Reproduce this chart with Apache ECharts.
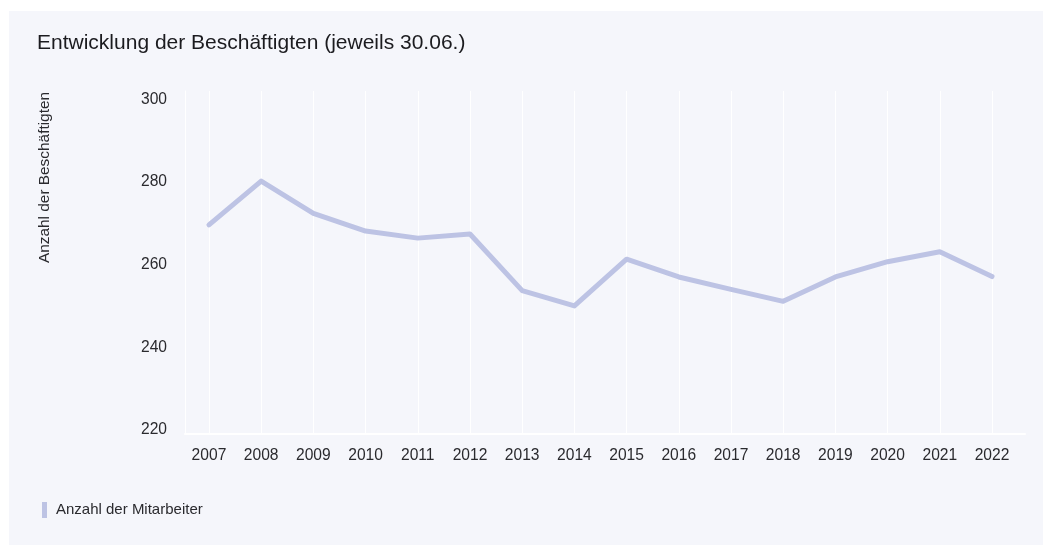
<!DOCTYPE html>
<html>
<head>
<meta charset="utf-8">
<script src="https://cdn.jsdelivr.net/npm/echarts@6/dist/echarts.min.js"></script>
<style>
  html, body { margin: 0; padding: 0; background: #ffffff; }
  #panel { position: absolute; left: 9px; top: 11px; width: 1034px; height: 534px; background: #f5f6fb; }
  #chart { position: absolute; left: 0; top: 0; width: 1043px; height: 545px; }
</style>
</head>
<body>
<div id="panel"></div>
<div id="chart"></div>
<script>
const titleText = 'Entwicklung der Beschäftigten (jeweils 30.06.)';
const yAxisName = 'Anzahl der Beschäftigten';
const seriesName = 'Anzahl der Mitarbeiter';
const years = [2007, 2008, 2009, 2010, 2011, 2012, 2013, 2014, 2015, 2016, 2017, 2018, 2019, 2020, 2021, 2022];
const employees = [269.6, 280.2, 272.4, 268.1, 266.4, 267.4, 253.7, 250, 261.3, 257, 254, 251.1, 257, 260.7, 263.1, 257.1];
const yTicks = [220, 240, 260, 280, 300];

const FONT = '"Liberation Sans", Arial, Helvetica, sans-serif';
const chart = echarts.init(document.getElementById('chart'), null, { renderer: 'canvas' });

const points = years.map((y, i) => [y, employees[i]]);

chart.setOption({
  animation: false,
  backgroundColor: 'transparent',
  textStyle: { fontFamily: FONT },
  title: {
    text: titleText,
    left: 37,
    top: 33,
    padding: 0,
    textStyle: { fontFamily: FONT, fontSize: 21, fontWeight: 'normal', color: '#1b1b1f' }
  },
  legend: {
    left: 42,
    top: 502,
    padding: 0,
    icon: 'rect',
    itemWidth: 5,
    itemHeight: 16,
    textStyle: { fontFamily: FONT, fontSize: 15, color: '#2a2a2e', padding: [1, 0, 0, 4] },
    data: [seriesName]
  },
  graphic: [{
    type: 'text',
    x: 44.5,
    y: 177.5,
    rotation: Math.PI / 2,
    style: {
      text: yAxisName,
      fontFamily: FONT,
      fontSize: 15.4,
      fill: '#2a2a2e',
      align: 'center',
      verticalAlign: 'middle'
    }
  }],
  grid: { left: 185, right: 18, top: 91, bottom: 111 },
  xAxis: {
    type: 'value',
    min: 2006.541,
    max: 2022.632,
    axisLine: { show: true, lineStyle: { color: '#ffffff', width: 2 } },
    axisTick: { show: false, customValues: years },
    axisLabel: {
      customValues: years,
      formatter: v => String(v),
      fontFamily: FONT,
      fontSize: 15.6,
      color: '#2a2a2e',
      margin: 14
    },
    splitLine: { show: true, lineStyle: { color: '#ffffff', width: 1 } }
  },
  yAxis: {
    type: 'value',
    min: 219,
    max: 302,
    axisLine: { show: true, lineStyle: { color: '#ffffff', width: 1 } },
    axisTick: { show: false, customValues: yTicks },
    axisLabel: {
      customValues: yTicks,
      fontFamily: FONT,
      fontSize: 15.6,
      color: '#2a2a2e',
      margin: 18,
      padding: [3, 0, 0, 0]
    },
    splitLine: { show: false }
  },
  series: [{
    name: seriesName,
    type: 'line',
    data: points,
    showSymbol: false,
    symbol: 'none',
    color: '#bdc3e4',
    lineStyle: { color: '#bdc3e4', width: 5, cap: 'round', join: 'round' }
  }]
});
</script>
</body>
</html>
